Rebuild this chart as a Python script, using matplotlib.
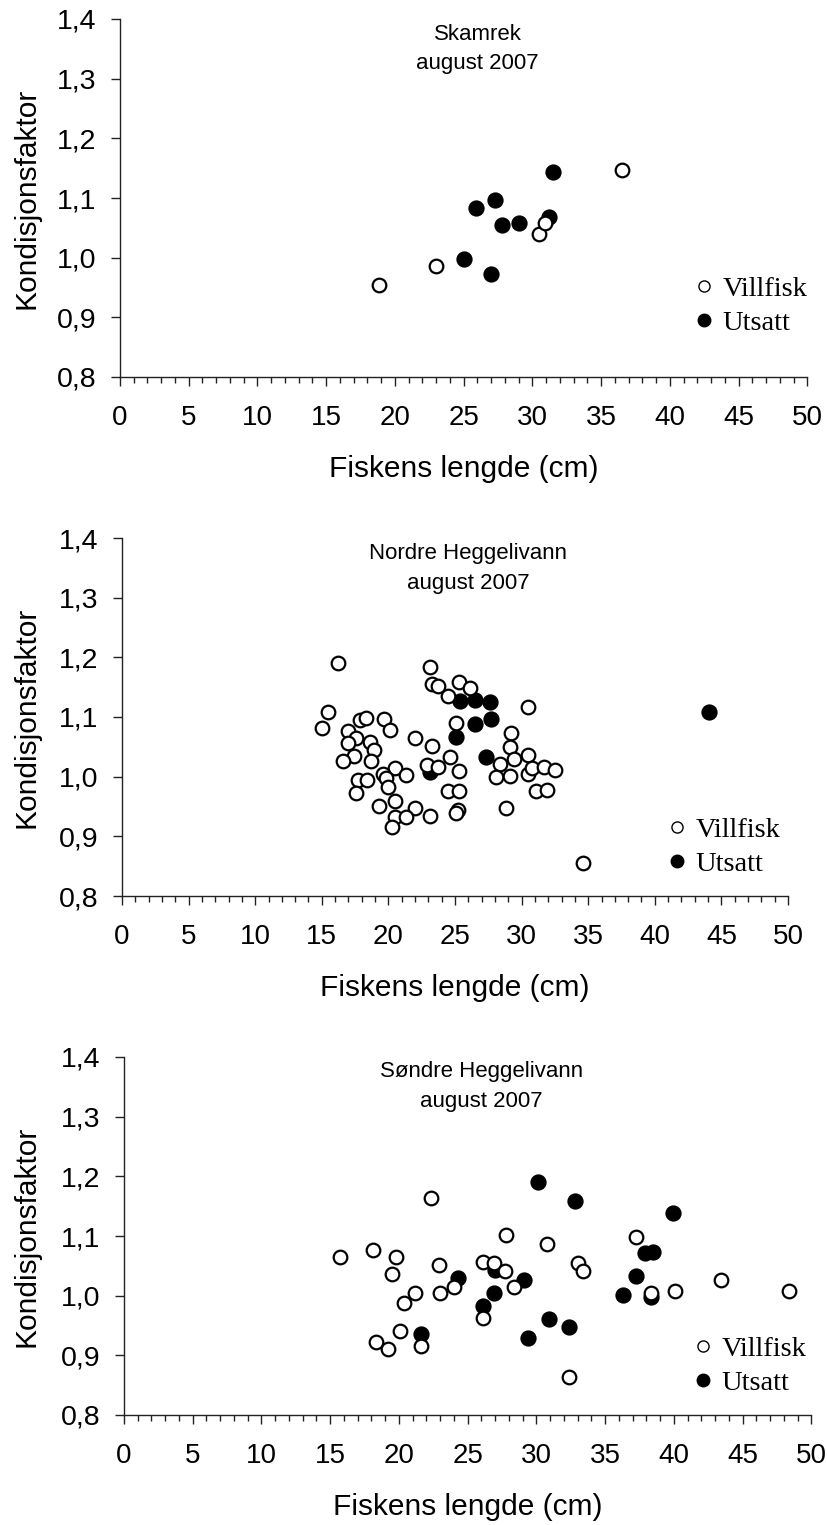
import matplotlib
matplotlib.use("Agg")
import matplotlib.pyplot as plt
from matplotlib.lines import Line2D
from matplotlib.ticker import FixedLocator, FixedFormatter, MultipleLocator

# ---------------- data ----------------
titles = ["Skamrek", "Nordre Heggelivann", "Søndre Heggelivann"]
subtitle = "august 2007"
xlabel = "Fiskens lengde (cm)"
ylabel = "Kondisjonsfaktor"
legend_labels = ["Villfisk", "Utsatt"]

y_ticks = [0.8, 0.9, 1.0, 1.1, 1.2, 1.3, 1.4]
y_tick_labels = ["0,8", "0,9", "1,0", "1,1", "1,2", "1,3", "1,4"]
x_ticks = [0, 5, 10, 15, 20, 25, 30, 35, 40, 45, 50]
x_tick_labels = ["0", "5", "10", "15", "20", "25", "30", "35", "40", "45", "50"]

# Skamrek
p1_vill_x = [18.8, 23.0, 30.5, 30.9, 36.5]
p1_vill_y = [0.954, 0.986, 1.039, 1.058, 1.147]
p1_uts_x = [25.0, 27.0, 25.9, 27.3, 27.8, 29.0, 31.2, 31.5]
p1_uts_y = [0.997, 0.973, 1.083, 1.096, 1.054, 1.058, 1.068, 1.143]

# Nordre Heggelivann
p2_vill_x = [16.2, 23.1, 23.3, 23.7, 25.3, 26.1, 24.5, 30.5, 25.1,
             15.5, 15.0, 17.9, 18.3, 19.7, 20.1, 17.0, 17.6, 17.0, 18.6, 18.9, 17.4, 16.6, 18.7,
             22.0, 23.3, 24.6, 22.9, 23.7, 25.3,
             29.2, 29.1, 29.4, 30.5, 28.4, 28.1, 29.1, 30.5, 30.8, 31.7, 32.5, 31.1, 31.9, 28.8, 34.6,
             20.5, 19.6, 19.8, 21.3, 17.7, 18.4, 20.0, 17.6, 20.5, 19.3, 22.0, 20.5, 21.3, 23.1, 20.3,
             24.5, 25.3, 25.2, 25.1]
p2_vill_y = [1.190, 1.184, 1.156, 1.152, 1.158, 1.149, 1.136, 1.117, 1.090,
             1.108, 1.082, 1.095, 1.098, 1.097, 1.079, 1.077, 1.064, 1.057, 1.058, 1.045, 1.035, 1.027, 1.026,
             1.064, 1.051, 1.033, 1.019, 1.016, 1.010,
             1.073, 1.049, 1.030, 1.036, 1.022, 0.999, 1.001, 1.004, 1.014, 1.016, 1.011, 0.976, 0.978, 0.948, 0.856,
             1.014, 1.005, 0.997, 1.003, 0.995, 0.995, 0.983, 0.972, 0.960, 0.951, 0.948, 0.932, 0.932, 0.934, 0.916,
             0.976, 0.976, 0.944, 0.939]
p2_uts_x = [25.4, 26.5, 27.6, 44.1, 27.7, 26.5, 25.1, 27.3, 23.1]
p2_uts_y = [1.127, 1.129, 1.125, 1.108, 1.097, 1.089, 1.066, 1.033, 1.007]

# Søndre Heggelivann
p3_vill_x = [15.7, 18.1, 19.8, 19.5, 20.4, 21.2, 22.3, 22.9, 23.0, 24.0, 26.1, 26.9, 27.7, 27.8,
             28.4, 30.8, 33.0, 33.4, 37.2, 38.3, 40.1, 43.4, 48.4, 18.3, 19.2, 20.1, 21.6, 26.1, 32.4]
p3_vill_y = [1.064, 1.076, 1.064, 1.036, 0.988, 1.004, 1.164, 1.051, 1.004, 1.015, 1.057, 1.054, 1.042, 1.101,
             1.014, 1.086, 1.055, 1.042, 1.099, 1.004, 1.007, 1.026, 1.007, 0.923, 0.910, 0.941, 0.916, 0.963, 0.864]
p3_uts_x = [24.3, 27.0, 26.9, 26.1, 21.6, 29.1, 29.4, 30.9, 32.4, 30.1, 32.8, 39.9, 37.9, 38.5, 37.2, 36.3, 38.3]
p3_uts_y = [1.030, 1.043, 1.005, 0.983, 0.936, 1.026, 0.929, 0.961, 0.948, 1.190, 1.158, 1.139, 1.071, 1.073,
            1.033, 1.001, 0.997]

panels_data = [
    (p1_vill_x, p1_vill_y, p1_uts_x, p1_uts_y),
    (p2_vill_x, p2_vill_y, p2_uts_x, p2_uts_y),
    (p3_vill_x, p3_vill_y, p3_uts_x, p3_uts_y),
]

# ---------------- layout (pixels) ----------------
W, H = 828, 1525
fig = plt.figure(figsize=(W / 100, H / 100), dpi=100)
fig.patch.set_facecolor("white")

# left, top, right, bottom in pixels
boxes = [(120, 19, 807.5, 377), (122, 538, 788, 896), (124, 1057, 811.5, 1415)]
# legend: marker centre x, centre y between rows
legend_pos = [(704, 306), (677, 847), (703, 1366)]

sans = "Liberation Sans"
serif = "Liberation Serif"
axis_col = "#222222"

for i, (box, data) in enumerate(zip(boxes, panels_data)):
    l, t, r, b = box
    ax = fig.add_axes([l / W, 1 - b / H, (r - l) / W, (b - t) / H])
    vx, vy, ux, uy = data
    ax.plot(ux, uy, linestyle="none", marker="o", markersize=10.3, markerfacecolor="black",
            markeredgecolor="black", markeredgewidth=1.4, zorder=3)
    ax.plot(vx, vy, linestyle="none", marker="o", markersize=9.8, markerfacecolor="white",
            markeredgecolor="black", markeredgewidth=1.6, zorder=4)

    ax.set_xlim(0, 50)
    ax.set_ylim(0.8, 1.4)
    for s in ["top", "right"]:
        ax.spines[s].set_visible(False)
    for s in ["left", "bottom"]:
        ax.spines[s].set_color(axis_col)
        ax.spines[s].set_linewidth(1.0)

    ax.yaxis.set_major_locator(FixedLocator(y_ticks))
    ax.yaxis.set_major_formatter(FixedFormatter(y_tick_labels))
    ax.xaxis.set_major_locator(FixedLocator(x_ticks))
    ax.xaxis.set_major_formatter(FixedFormatter(x_tick_labels))
    ax.xaxis.set_minor_locator(MultipleLocator(1))

    ax.tick_params(axis="y", which="major", direction="out", length=6.7, width=1.0,
                   color=axis_col, pad=10.5, labelsize=20.5)
    ax.tick_params(axis="x", which="major", direction="out", length=6.3, width=1.0,
                   color=axis_col, pad=14, labelsize=20)
    ax.tick_params(axis="x", which="minor", direction="out", length=4.5, width=1.0,
                   color=axis_col)
    for lab in ax.get_xticklabels() + ax.get_yticklabels():
        lab.set_fontfamily(sans)

    ax.set_ylabel(ylabel, fontsize=21.5, fontfamily=sans, va="center")
    ax.yaxis.set_label_coords((27 - l) / (r - l), 0.5)
    ax.set_xlabel(xlabel, fontsize=21.5, fontfamily=sans, va="center")
    ax.xaxis.set_label_coords(0.5, -92 / (b - t))

    ax.text(0.52, 1 - 15 / (b - t), titles[i], transform=ax.transAxes, ha="center",
            va="center", fontsize=16, fontfamily=sans)
    ax.text(0.52, 1 - 45 / (b - t), subtitle, transform=ax.transAxes, ha="center",
            va="center", fontsize=16, fontfamily=sans)

    handles = [
        Line2D([], [], linestyle="none", marker="o", markersize=8, markerfacecolor="white",
               markeredgecolor="black", markeredgewidth=1.0),
        Line2D([], [], linestyle="none", marker="o", markersize=9, markerfacecolor="black",
               markeredgecolor="black", markeredgewidth=1.0),
    ]
    mx, my = legend_pos[i]
    fs_px = 20 * 100 / 72
    hl = 0.5
    anchor_x = (mx - hl * fs_px / 2 - l) / (r - l)
    anchor_y = (b - my) / (b - t)
    ax.legend(handles, legend_labels, loc="center left", bbox_to_anchor=(anchor_x, anchor_y),
              frameon=False, prop={"family": serif, "size": 20.5}, handlelength=hl,
              handletextpad=0.4, labelspacing=0.3, borderpad=0, borderaxespad=0)

fig.savefig("out.png", dpi=100, facecolor="white")
